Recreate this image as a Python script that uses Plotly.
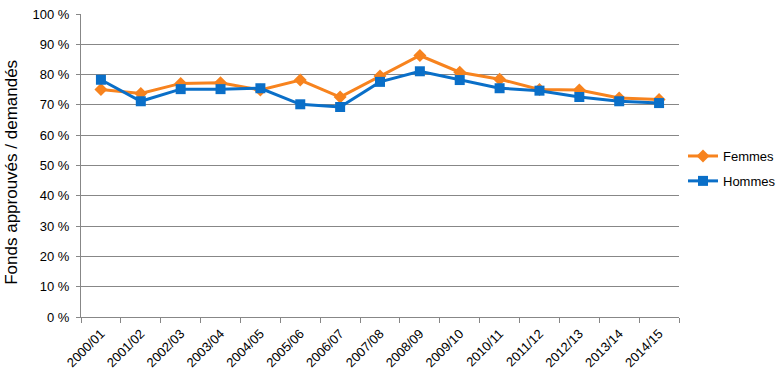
import plotly.graph_objects as go

years = ["2000/01", "2001/02", "2002/03", "2003/04", "2004/05", "2005/06", "2006/07",
         "2007/08", "2008/09", "2009/10", "2010/11", "2011/12", "2012/13", "2013/14", "2014/15"]
femmes = [75.1, 73.8, 77.1, 77.3, 74.9, 78.2, 72.6, 79.5, 86.3, 80.8, 78.5, 75.1, 74.9, 72.3, 71.8]
hommes = [78.3, 71.2, 75.2, 75.2, 75.5, 70.2, 69.3, 77.6, 81.1, 78.2, 75.5, 74.7, 72.6, 71.2, 70.6]

orange = "#F7831E"
blue = "#0A6FC8"
grid = "#878787"
font = "Liberation Sans"

fig = go.Figure()
fig.add_trace(go.Scatter(x=years, y=femmes, name="Femmes", mode="lines+markers",
                         legendgroup="f",
                         line=dict(color=orange, width=3),
                         marker=dict(symbol="diamond", size=10, color=orange)))
fig.add_trace(go.Scatter(x=years, y=hommes, name="Hommes", mode="lines+markers",
                         legendgroup="h",
                         line=dict(color=blue, width=3),
                         marker=dict(symbol="square", size=10, color=blue)))

fig.update_layout(
    width=783, height=384,
    margin=dict(l=81, r=104, t=14, b=67, autoexpand=False),
    paper_bgcolor="white", plot_bgcolor="white",
    font=dict(family=font, size=13, color="black"),
    showlegend=True,
    legend=dict(x=1.0067, y=0.49, xanchor="left", yanchor="middle",
                font=dict(size=13), tracegroupgap=5, itemwidth=30),
    xaxis=dict(type="category", tickangle=-45, showgrid=False, automargin=False,
               range=[-0.5, len(years) - 0.5],
               showline=True, linecolor=grid, linewidth=1,
               ticks="outside", ticklen=5, tickcolor=grid, tickson="boundaries",
               ticklabelstandoff=3,
               tickfont=dict(size=13)),
    yaxis=dict(range=[0, 100], dtick=10, ticksuffix=" %", automargin=False,
               ticklabeloverflow="allow", ticklabelstandoff=4,
               showgrid=True, gridcolor=grid, gridwidth=1,
               showline=True, linecolor=grid, linewidth=1,
               ticks="outside", ticklen=4, tickcolor=grid,
               zeroline=False, tickfont=dict(size=13)),
    annotations=[dict(text="Fonds approuvés / demandés", textangle=-90,
                      xref="paper", yref="paper", x=-0.1155, y=0.479,
                      xanchor="center", yanchor="middle", showarrow=False,
                      font=dict(size=17))],
)

fig.write_html("out.html", config={"displayModeBar": False},
               post_script="document.body.style.margin='0';")
